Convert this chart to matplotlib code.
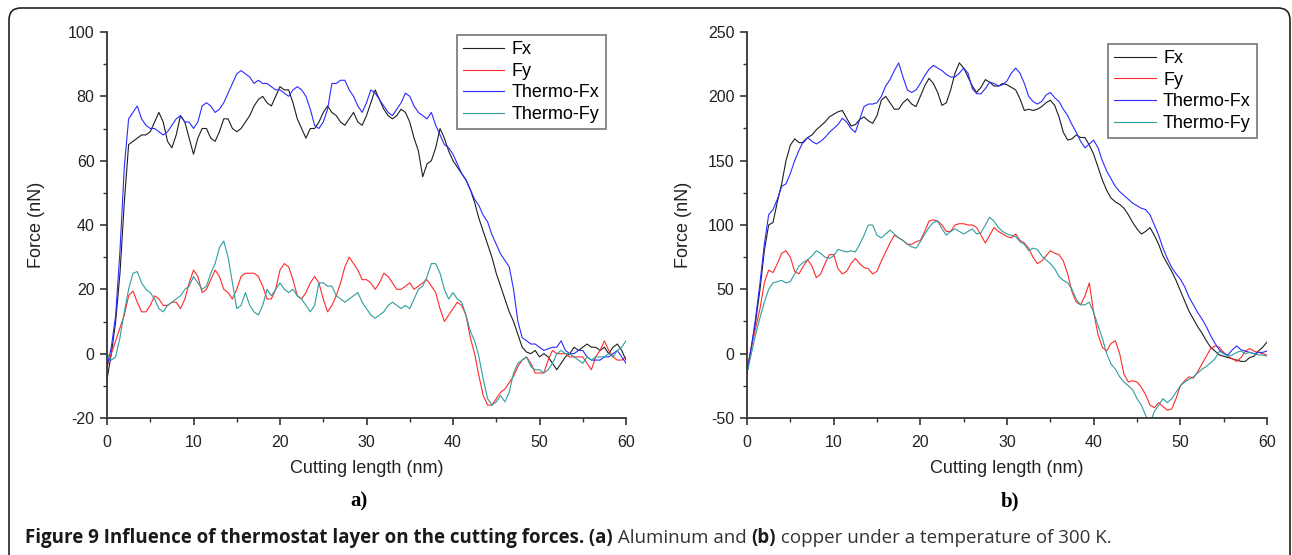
import numpy as np
import matplotlib
matplotlib.use('Agg')
import matplotlib.pyplot as plt
from matplotlib.patches import FancyBboxPatch
from matplotlib.transforms import IdentityTransform
from matplotlib.ticker import MultipleLocator

plt.rcParams['font.family'] = ['Liberation Sans', 'DejaVu Sans']
plt.rcParams['axes.unicode_minus'] = False

length_nm = np.arange(0, 60.5, 0.5)

labels = ['Fx', 'Fy', 'Thermo-Fx', 'Thermo-Fy']
colors = ['#1e1e1e', '#ff2a2a', '#2b2bff', '#2f9e9e']

# (a) aluminum
al_fx = [-8, 0, 10, 25, 47, 65, 66, 67, 68, 68,
         69, 72, 75, 72, 66, 64, 68, 74, 72, 67,
         62, 67, 70, 70, 67, 66, 69, 73, 73, 70,
         69, 70, 72, 74, 77, 79, 80, 78, 77, 80,
         83, 82, 82, 78, 73, 70, 67, 70, 70, 72,
         75, 77, 75, 74, 72, 71, 73, 75, 72, 71,
         74, 78, 82, 79, 76, 74, 73, 74, 76, 75,
         72, 67, 63, 55, 59, 60, 64, 70, 67, 63,
         60, 58, 56, 54, 51, 47, 42, 38, 34, 30,
         25, 21, 17, 13, 10, 6, 2, 0.5, 0, 1,
         -1, 0, -1, -3, -5, -3, -1, 0, 2, 1,
         2, 3, 2, 2, 1, 2, 0, 2, 3, 1,
         -2]
al_fy = [-4, 0, 4, 8, 12, 18, 19.5, 16, 13, 13,
         15, 18, 17, 15, 15, 16, 16, 14, 17, 22,
         26, 24, 19, 20, 23, 26, 24, 20, 19, 17,
         20, 24, 25, 25, 25, 24, 21, 17, 17, 20,
         26, 28, 27, 23, 18, 17, 19, 22, 24, 22,
         17, 13, 15, 18, 22, 27, 30, 28, 26, 23,
         23, 22, 20, 22, 25, 24, 22, 20, 20, 21,
         22, 20, 21, 22, 23, 21, 19, 14, 10, 12,
         14, 16, 15, 12, 5, 0, -7, -13, -16, -16,
         -14, -12, -11, -9, -7, -4, -2, -1, -3, -6,
         -6, -6, -2, 1, 0, 0, 0, -1, -1, -1,
         -1, -3, -5, -1, 1, 4, 1, -1, -2, -2,
         -1]
al_thermo_fx = [-4, 2, 12, 32, 58, 73, 75, 77, 73, 71,
                70, 70, 69, 68, 69, 71, 73, 74, 72, 72,
                70, 72, 77, 78, 77, 75, 76, 78, 81, 84,
                87, 88, 87, 86, 84, 85, 84, 84, 83, 82,
                82, 81, 80, 82, 83, 82, 80, 76, 71, 70,
                72, 76, 84, 84, 85, 85, 82, 80, 77, 75,
                78, 82, 81, 79, 77, 75, 74, 76, 78, 81,
                80, 77, 75, 74, 73, 75, 71, 68, 65, 64,
                62, 59, 56, 54, 51, 48, 46, 43, 41, 37,
                34, 31, 29, 27, 20, 10, 5, 4, 3, 3,
                2, 1, 1.5, 2, 2, 4, 1, 0, 0, 1,
                1, -1, -2, -2, -2, -1, -1, 0, 1, -1,
                -3]
al_thermo_fy = [0, -2, -1, 5, 13, 20, 25, 25.5, 22, 20,
                19, 17, 14, 13, 15, 16, 17, 18, 20, 21,
                24, 22, 20, 21, 25, 28, 33, 35, 30, 22,
                14, 15, 19, 15, 13, 12, 15, 20, 18, 20,
                22, 20, 19, 20, 18, 17, 15, 13, 15, 22,
                22, 21, 21, 18, 17, 16, 17, 18, 19, 16,
                14, 12, 11, 12, 13, 15, 16, 15, 14, 15,
                14, 17, 20, 21, 24, 28, 28, 25, 20, 17,
                19, 17, 16, 12, 7, 4, -1, -8, -14, -16,
                -15, -13, -15, -12, -6, -3, -2, -1, -4, -5,
                -5, -6, -5, -3, 0, 1, 0, 0, -1, -2,
                -3, -1, -2, -1, -1, -1, 0, -1, 1, 2,
                4]

# (b) copper
cu_fx = [-15, 5, 25, 50, 80, 100, 102, 118, 132, 150,
         162, 167, 164, 164, 168, 170, 174, 177, 180, 184,
         186, 188, 189, 183, 177, 178, 182, 184, 181, 179,
         185, 197, 200, 195, 190, 190, 195, 198, 194, 192,
         200, 208, 214, 210, 203, 193, 195, 205, 218, 226,
         222, 215, 208, 203, 207, 213, 211, 208, 208, 210,
         209, 207, 205, 198, 189, 190, 189, 190, 192, 195,
         197, 193, 184, 172, 166, 167, 170, 168, 168, 162,
         155, 145, 135, 127, 121, 118, 116, 113, 108, 102,
         97, 93, 95, 98, 92, 85, 76, 70, 64, 57,
         49, 41, 33, 27, 21, 16, 10, 5, 2, -1,
         -2, -3, -4, -5, -6, -6, -3, -2, 2, 5,
         9]
cu_fy = [-12, 5, 20, 35, 55, 65, 63, 70, 78, 80,
         75, 64, 62, 68, 73, 68, 59, 62, 70, 77,
         77, 66, 62, 64, 70, 74, 70, 67, 66, 62,
         64, 72, 79, 86, 92, 90, 88, 85, 85, 87,
         88, 95, 103, 104, 103, 100, 95, 95, 100, 101,
         101, 100, 100, 98, 92, 86, 92, 98, 95, 93,
         91, 90, 93, 88, 86, 82, 75, 70, 72, 76,
         80, 78, 77, 72, 62, 48, 40, 38, 45, 55,
         32, 15, 5, 2, 8, 10, 0, -16, -22, -21,
         -22, -26, -32, -40, -42, -38, -41, -44, -43, -35,
         -25, -21, -18, -19, -14, -8, -2, 4, 6, 5,
         1, -2, -4, -6, -3, 2, 4, 2, 1, 0,
         -1]
cu_thermo_fx = [-15, 5, 28, 55, 85, 108, 112, 120, 130, 132,
                140, 150, 158, 165, 168, 165, 163, 165, 168, 172,
                175, 178, 183, 180, 175, 172, 182, 192, 194, 194,
                195, 200, 208, 213, 220, 226, 215, 205, 203, 205,
                210, 216, 221, 224, 222, 220, 217, 215, 215, 218,
                222, 218, 206, 202, 202, 206, 211, 210, 208, 209,
                212, 218, 222, 218, 210, 200, 196, 194, 196, 201,
                203, 199, 196, 190, 185, 178, 172, 165, 160, 163,
                166, 160, 150, 142, 136, 130, 126, 123, 120, 117,
                115, 113, 112, 108, 100, 92, 82, 74, 67, 62,
                58, 52, 44, 38, 32, 27, 21, 14, 8, 3,
                0, -1, 3, 6, 3, 2, 1, 0, 1, 1,
                2]
cu_thermo_fy = [-15, 0, 15, 28, 40, 50, 55, 56, 57, 55,
                56, 62, 68, 71, 73, 76, 80, 78, 75, 74,
                76, 81, 80, 79, 80, 79, 85, 92, 100, 100,
                92, 90, 93, 96, 93, 90, 88, 85, 83, 82,
                87, 93, 98, 102, 103, 97, 92, 95, 97, 95,
                93, 95, 97, 93, 94, 100, 106, 103, 98, 95,
                93, 92, 91, 87, 85, 80, 82, 81, 76, 73,
                70, 66, 60, 57, 55, 50, 42, 38, 38, 40,
                32, 22, 12, 0, -8, -12, -18, -22, -25, -28,
                -35, -40, -48, -54, -45, -40, -35, -38, -35, -30,
                -25, -22, -20, -18, -15, -12, -10, -7, -4, 2,
                0, -2, -1, 1, 2, 0, 1, 0, -1, -1,
                -2]


def draw_panel(ax, series, ylim, ymajor, ylabel_x, legend_anchor):
    for vals, lab, col in zip(series, labels, colors):
        ax.plot(length_nm, vals, color=col, lw=0.8, label=lab)
    ax.set_xlim(0, 60)
    ax.set_ylim(*ylim)
    ax.xaxis.set_major_locator(MultipleLocator(10))
    ax.xaxis.set_minor_locator(MultipleLocator(5))
    ax.yaxis.set_major_locator(MultipleLocator(ymajor))
    ax.yaxis.set_minor_locator(MultipleLocator(ymajor / 2))
    for side in ['top', 'right']:
        ax.spines[side].set_visible(False)
    for side in ['left', 'bottom']:
        ax.spines[side].set_linewidth(1.3)
        ax.spines[side].set_color('#333333')
    ax.tick_params(which='major', direction='out', length=5, width=1.2,
                   color='#333333', labelsize=11.5, labelcolor='#222222')
    ax.tick_params(which='minor', direction='out', length=3, width=1.0,
                   color='#333333')
    ax.tick_params(axis='x', which='major', pad=7)
    ax.tick_params(axis='y', which='major', pad=4)
    ax.set_xlabel('Cutting length (nm)', fontsize=13, color='#222222', va='center')
    ax.xaxis.set_label_coords(0.5, -0.13)
    ax.set_ylabel('Force (nN)', fontsize=13, color='#222222', va='center')
    ax.yaxis.set_label_coords(ylabel_x, 0.5)
    leg = ax.legend(loc='upper right', bbox_to_anchor=legend_anchor, fontsize=13,
                    frameon=True, fancybox=False, framealpha=1, edgecolor='#808080',
                    handlelength=2.3, handletextpad=0.4, labelspacing=0.25,
                    borderpad=0.35, borderaxespad=0)
    leg.get_frame().set_linewidth(1.3)


fig = plt.figure(figsize=(12.92, 5.55), dpi=100)
ax_a = fig.add_axes([107 / 1292, 137 / 555, 519 / 1292, 386 / 555])
ax_b = fig.add_axes([747 / 1292, 137 / 555, 520 / 1292, 386 / 555])

draw_panel(ax_a, [al_fx, al_fy, al_thermo_fx, al_thermo_fy], (-20, 100), 20,
           -0.135, (0.961, 0.992))
draw_panel(ax_b, [cu_fx, cu_fy, cu_thermo_fx, cu_thermo_fy], (-50, 250), 50,
           -0.123, (0.981, 0.969))

fig.text(359 / 1292, 1 - 501 / 555, 'a)', fontsize=15, fontweight='bold',
         family='Liberation Serif', ha='center', va='center')
fig.text(1010 / 1292, 1 - 501 / 555, 'b)', fontsize=15, fontweight='bold',
         family='Liberation Serif', ha='center', va='center')

# caption, pieced together from bold and regular runs
caption = [('Figure 9 Influence of thermostat layer on the cutting forces.', 'bold', '#1a1a1a'),
           (' (a)', 'bold', '#1a1a1a'),
           (' Aluminum and ', 'normal', '#333333'),
           ('(b)', 'bold', '#1a1a1a'),
           (' copper under a temperature of 300 K.', 'normal', '#333333')]
renderer = fig.canvas.get_renderer()
x_px = 25
for txt, weight, col in caption:
    t = fig.text(x_px / 1292, 1 - 538 / 555, txt, fontsize=13.5, fontweight=weight,
                 family='Open Sans', color=col, ha='left', va='center')
    x_px = t.get_window_extent(renderer).x1

# rounded frame around the figure, bottom edge runs off the image
border = FancyBboxPatch((9, -40), 1281, 587,
                        boxstyle='round,pad=0,rounding_size=12',
                        transform=IdentityTransform(), fill=False,
                        edgecolor='#222222', lw=1.2)
fig.patches.append(border)

fig.savefig('out.png', dpi=100)
